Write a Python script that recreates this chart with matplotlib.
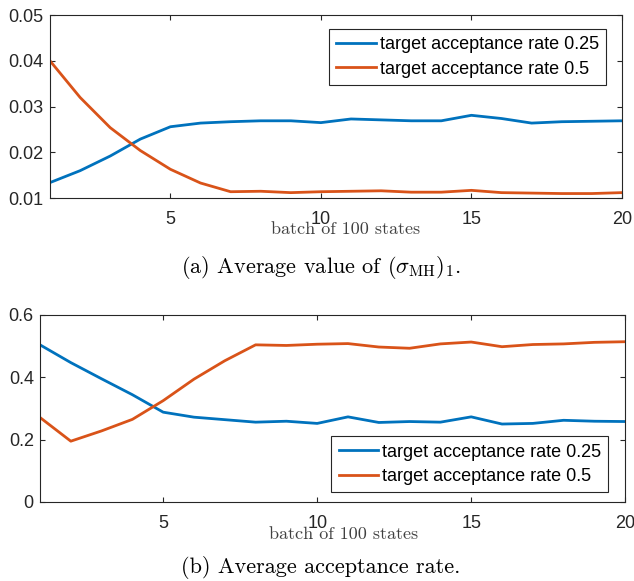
import numpy as np
import matplotlib
matplotlib.use("Agg")
import matplotlib.pyplot as plt

# batch index
batch = np.arange(1, 21)

# (a) average value of (sigma_MH)_1
sigma_025 = [0.0134, 0.0160, 0.0192, 0.0229, 0.0256, 0.0264, 0.0267, 0.0269, 0.0269, 0.0265,
             0.0273, 0.0271, 0.0269, 0.0269, 0.0281, 0.0274, 0.0264, 0.0267, 0.0268, 0.0269]
sigma_05 = [0.0400, 0.0320, 0.0254, 0.0204, 0.0163, 0.0133, 0.0114, 0.0115, 0.0112, 0.0114,
            0.0115, 0.0116, 0.0113, 0.0113, 0.0117, 0.0112, 0.0111, 0.0110, 0.0110, 0.0112]

# (b) average acceptance rate
acc_025 = [0.504, 0.447, 0.395, 0.344, 0.288, 0.272, 0.264, 0.256, 0.259, 0.252,
           0.273, 0.255, 0.258, 0.256, 0.273, 0.250, 0.252, 0.262, 0.259, 0.258]
acc_05 = [0.271, 0.195, 0.228, 0.265, 0.325, 0.394, 0.453, 0.504, 0.502, 0.506,
          0.508, 0.497, 0.493, 0.507, 0.513, 0.498, 0.505, 0.507, 0.512, 0.514]

labels = ['target acceptance rate 0.25', 'target acceptance rate 0.5']
colors = ['#0072BD', '#D95319']
xticks = [5, 10, 15, 20]
yticks_a = [0.01, 0.02, 0.03, 0.04, 0.05]
yticks_b = [0, 0.2, 0.4, 0.6]
ytlabels_b = ['0', '0.2', '0.4', '0.6']

plt.rcParams['mathtext.fontset'] = 'cm'
dark = '#262626'

fig = plt.figure(figsize=(6.34, 5.81), dpi=100)
ax1 = fig.add_axes([0.0789, 0.659, 0.902, 0.315])
ax2 = fig.add_axes([0.0631, 0.136, 0.923, 0.322])


def style(ax):
    for s in ax.spines.values():
        s.set_color(dark)
        s.set_linewidth(0.8)
    ax.tick_params(direction='in', length=3.5, width=0.8, color=dark,
                   top=True, right=True, labelcolor=dark, labelsize=13)
    ax.tick_params(axis='x', pad=9.5)
    ax.tick_params(axis='y', pad=4.5)
    for t in ax.get_xticklabels() + ax.get_yticklabels():
        t.set_fontfamily('Liberation Sans')


ax1.plot(batch, sigma_025, color=colors[0], lw=2, label=labels[0])
ax1.plot(batch, sigma_05, color=colors[1], lw=2, label=labels[1])
ax1.set_xlim(1, 20)
ax1.set_ylim(0.01, 0.05)
ax1.set_xticks(xticks)
ax1.set_yticks(yticks_a)
style(ax1)
ax1.set_xlabel('batch of 100 states', fontfamily='cmr10', fontsize=13, color='#404040')
ax1.xaxis.set_label_coords(0.516, -0.13)
leg = ax1.legend(loc='upper right', bbox_to_anchor=(0.972, 0.923), borderaxespad=0,
                 fancybox=False, framealpha=1, edgecolor=dark, handlelength=2.2,
                 handletextpad=0.2, labelspacing=0.4, borderpad=0.4,
                 prop={'family': 'Liberation Sans', 'size': 13})
leg.get_frame().set_linewidth(0.8)

ax2.plot(batch, acc_025, color=colors[0], lw=2, label=labels[0])
ax2.plot(batch, acc_05, color=colors[1], lw=2, label=labels[1])
ax2.set_xlim(1, 20)
ax2.set_ylim(0, 0.6)
ax2.set_xticks(xticks)
ax2.set_yticks(yticks_b, ytlabels_b)
style(ax2)
ax2.set_xlabel('batch of 100 states', fontfamily='cmr10', fontsize=13, color='#404040')
ax2.xaxis.set_label_coords(0.518, -0.132)
leg = ax2.legend(loc='lower right', bbox_to_anchor=(0.971, 0.053), borderaxespad=0,
                 fancybox=False, framealpha=1, edgecolor=dark, handlelength=2.2,
                 handletextpad=0.2, labelspacing=0.4, borderpad=0.4,
                 prop={'family': 'Liberation Sans', 'size': 13})
leg.get_frame().set_linewidth(0.8)

fig.text(0.506, 0.540, r'(a) Average value of $(\sigma_{\rm MH})_1$.', ha='center', va='center',
         fontfamily='cmr10', fontsize=16)
fig.text(0.506, 0.024, '(b) Average acceptance rate.', ha='center', va='center',
         fontfamily='cmr10', fontsize=16)

fig.savefig('out.png', dpi=100)
